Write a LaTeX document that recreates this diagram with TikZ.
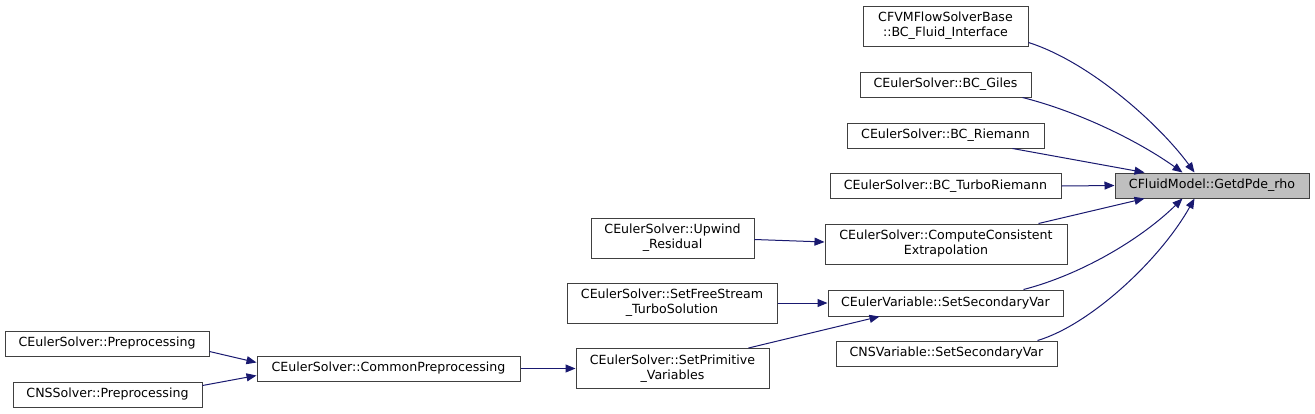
\documentclass[tikz,border=0pt]{standalone}
\usepackage{fontspec}
\setmainfont{DejaVu Sans}
\usetikzlibrary{arrows.meta}
\definecolor{edgecol}{HTML}{191970}
\definecolor{boxborder}{HTML}{404040}
\definecolor{tgtfill}{HTML}{BFBFBF}
\begin{document}
\begin{tikzpicture}[x=1pt,y=-1pt,
  fn/.style={draw=boxborder,line width=1pt,fill=white,inner sep=0pt,align=center,
     font=\fontsize{12.6}{15}\selectfont},
  tgtbox/.style={fn,fill=tgtfill},
  call/.style={draw=edgecol,line width=1pt,-{Triangle[length=10pt,width=8pt]},color=edgecol}]
\useasboundingbox (0,0) rectangle (1315,413);
\fill[white] (0,0) rectangle (1315,413);
\node[tgtbox,minimum width=194pt,minimum height=25pt] (tgt) at (1212,185.5) {CFluidModel::GetdPde\_rho};
\node[fn,minimum width=165pt,minimum height=40pt] (fluid) at (945.5,26) {CFVMFlowSolverBase\\::BC\_Fluid\_Interface};
\node[fn,minimum width=171pt,minimum height=25pt] (giles) at (945.5,84.5) {CEulerSolver::BC\_Giles};
\node[fn,minimum width=197pt,minimum height=25pt] (riem) at (945.5,135.5) {CEulerSolver::BC\_Riemann};
\node[fn,minimum width=231pt,minimum height=25pt] (turbo) at (945.5,186) {CEulerSolver::BC\_TurboRiemann};
\node[fn,minimum width=242pt,minimum height=40pt] (comp) at (946,244) {CEulerSolver::ComputeConsistent\\Extrapolation};
\node[fn,minimum width=235pt,minimum height=26pt] (evar) at (945.5,303) {CEulerVariable::SetSecondaryVar};
\node[fn,minimum width=221pt,minimum height=25pt] (nsvar) at (946.5,353.5) {CNSVariable::SetSecondaryVar};
\node[fn,minimum width=163pt,minimum height=40pt] (upw) at (672.5,238) {CEulerSolver::Upwind\\\_Residual};
\node[fn,minimum width=210pt,minimum height=40pt] (free) at (672,303) {CEulerSolver::SetFreeStream\\\_TurboSolution};
\node[fn,minimum width=193pt,minimum height=40pt] (prim) at (672.5,368.5) {CEulerSolver::SetPrimitive\\\_Variables};
\node[fn,minimum width=263pt,minimum height=25pt] (common) at (388.5,368.5) {CEulerSolver::CommonPreprocessing};
\node[fn,minimum width=204pt,minimum height=25pt] (epre) at (107,343.5) {CEulerSolver::Preprocessing};
\node[fn,minimum width=189pt,minimum height=25pt] (nspre) at (107.5,394.5) {CNSSolver::Preprocessing};

\draw[call] ([yshift=4pt]fluid.south east) .. controls (1090,62) and (1160,125) .. ([xshift=80pt]tgt.north west);
\draw[call] ([xshift=-9pt]giles.south east) .. controls (1080,112) and (1140,142) .. ([xshift=68pt]tgt.north west);
\draw[call] ([xshift=67pt]riem.south) -- ([xshift=30pt]tgt.north west);
\draw[call] (turbo.east) -- (tgt.west);
\draw[call] ([xshift=-29pt]comp.north east) -- ([xshift=30pt]tgt.south west);
\draw[call] ([xshift=78pt]evar.north) .. controls (1080,275) and (1140,240) .. ([xshift=68pt]tgt.south west);
\draw[call] ([xshift=91pt]nsvar.north) .. controls (1090,325) and (1160,260) .. ([xshift=80pt]tgt.south west);
\draw[call] ([yshift=-1.5pt]upw.east) -- ([yshift=2pt]comp.west);
\draw[call] (free.east) -- (evar.west);
\draw[call] ([xshift=-21pt]prim.north east) -- ([xshift=52pt]evar.south west);
\draw[call] (common.east) -- (prim.west);
\draw[call] ([yshift=-8pt]epre.east) -- ([yshift=6pt]common.west);
\draw[call] ([yshift=9pt]nspre.east) -- ([yshift=-7pt]common.west);
\end{tikzpicture}
\end{document}
